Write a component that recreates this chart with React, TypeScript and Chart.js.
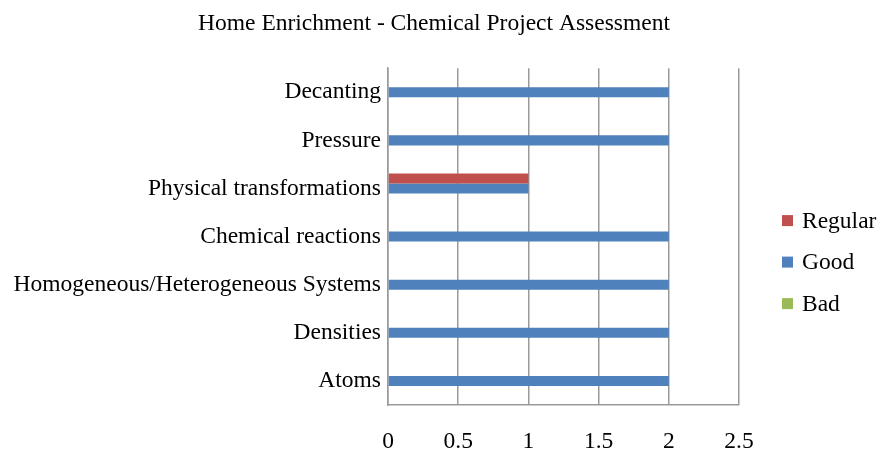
import React, { useEffect, useRef } from "react";
import { Chart, registerables } from "chart.js";

Chart.register(...registerables);

const categories = [
  "Decanting",
  "Pressure",
  "Physical transformations",
  "Chemical reactions",
  "Homogeneous/Heterogeneous Systems",
  "Densities",
  "Atoms",
];
const regularValues = [0, 0, 1, 0, 0, 0, 0];
const goodValues = [2, 2, 1, 2, 2, 2, 2];
const badValues = [0, 0, 0, 0, 0, 0, 0];
const xTicks = [0, 0.5, 1, 1.5, 2, 2.5];

const FONT = "'Liberation Serif', 'Times New Roman', serif";
const FS = 23.5;

const sideLegend = {
  id: "sideLegend",
  afterDraw(chart: any) {
    const { ctx, chartArea } = chart;
    const items = chart.data.datasets;
    const mid = (chartArea.top + chartArea.bottom) / 2 + 25.5;
    const x0 = chartArea.right + 43;
    ctx.save();
    ctx.font = `${FS}px ${FONT}`;
    ctx.textBaseline = "middle";
    ctx.textAlign = "left";
    items.forEach((ds: any, i: number) => {
      const cy = mid + (i - 1) * 41.5;
      ctx.fillStyle = ds.backgroundColor;
      ctx.fillRect(x0, cy - 5.5, 11, 11);
      ctx.fillStyle = "#000";
      ctx.fillText(ds.label, x0 + 20, cy + 1);
    });
    ctx.restore();
  },
};

export default function App() {
  const ref = useRef<HTMLCanvasElement | null>(null);
  useEffect(() => {
    if (!ref.current) return;
    const chart = new Chart(ref.current, {
      type: "bar",
      data: {
        labels: categories,
        datasets: [
          { label: "Regular", data: regularValues, backgroundColor: "#C0504D" },
          { label: "Good", data: goodValues, backgroundColor: "#4F81BD" },
          { label: "Bad", data: badValues, backgroundColor: "#9BBB59" },
        ],
      },
      plugins: [sideLegend],
      options: {
        indexAxis: "y",
        animation: false,
        responsive: true,
        maintainAspectRatio: false,
        categoryPercentage: 0.625,
        barPercentage: 1,
        layout: { padding: { left: 0, right: 12, top: 0, bottom: 0 } },
        plugins: {
          title: {
            display: true,
            text: "Home Enrichment - Chemical Project Assessment",
            color: "#000",
            font: { family: FONT, size: 23.5, weight: "normal" },
            padding: { top: 10, bottom: 30 },
          },
          legend: { display: false },
          tooltip: { enabled: false },
        },
        scales: {
          x: {
            min: 0,
            max: 2.5,
            afterBuildTicks: (scale: any) => {
              scale.ticks = xTicks.map((v) => ({ value: v }));
            },
            afterFit: (scale: any) => {
              scale.height = 46;
            },
            grid: { color: "#9a9a9a", lineWidth: 1.5, drawTicks: false },
            border: { display: true, color: "#9a9a9a", width: 1.5 },
            ticks: {
              color: "#000",
              font: { family: FONT, size: FS },
              padding: 23,
              callback: (v: any) => String(v),
            },
          },
          y: {
            afterFit: (scale: any) => {
              scale.width = 388;
            },
            grid: { display: false, drawTicks: false },
            border: { display: true, color: "#9a9a9a", width: 1.5 },
            ticks: {
              color: "#000",
              font: { family: FONT, size: FS },
              padding: 7,
            },
          },
          legendSpace: {
            type: "category",
            position: "right",
            labels: categories,
            afterFit: (scale: any) => {
              scale.width = 129;
            },
            grid: { display: false, drawTicks: false },
            border: { display: false },
            ticks: { display: false },
          },
        },
      },
    });
    return () => chart.destroy();
  }, []);
  return (
    <div style={{ position: "fixed", left: 0, top: 0, width: 880, height: 451, background: "#fff" }}>
      <canvas ref={ref} />
    </div>
  );
}
